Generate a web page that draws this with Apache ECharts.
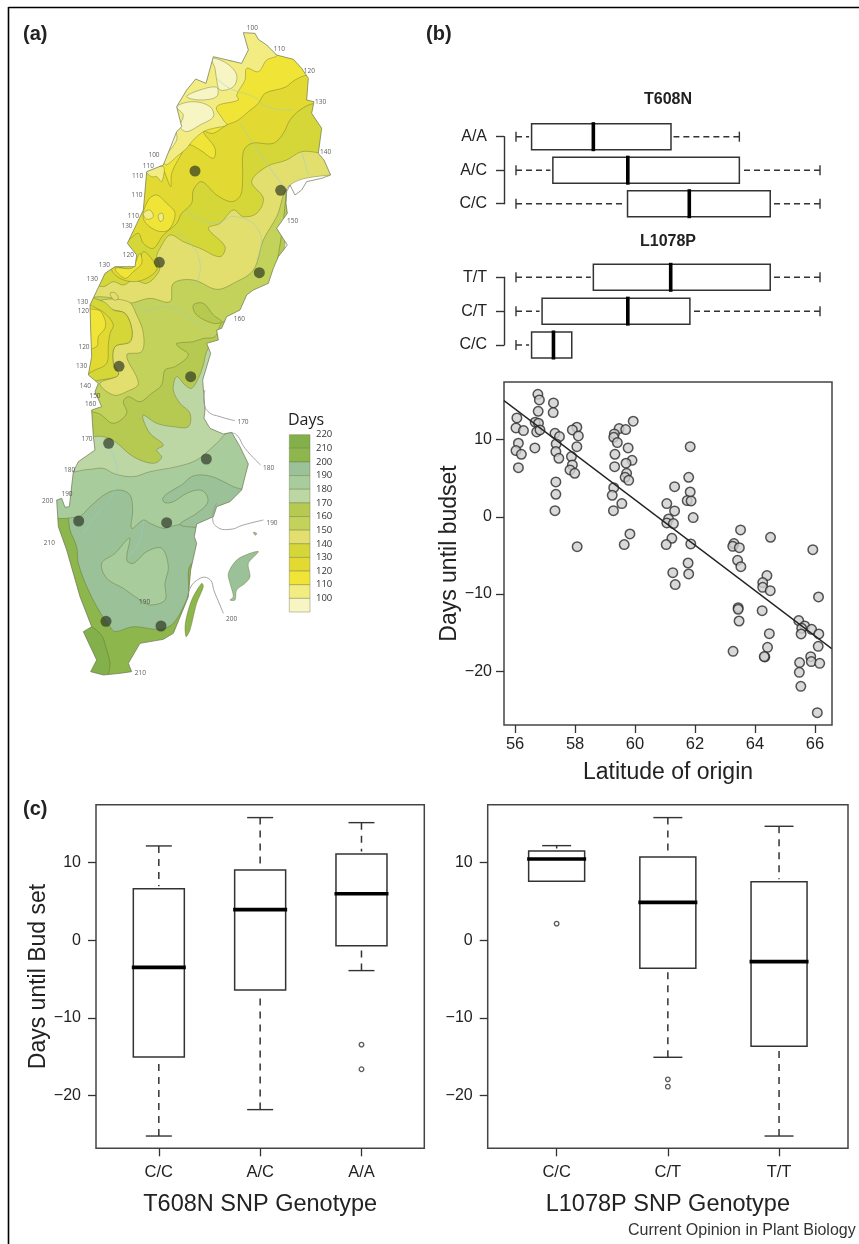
<!DOCTYPE html>
<html><head><meta charset="utf-8">
<style>html,body{margin:0;padding:0;background:#fff}#c{width:859px;height:1244px}</style>
<script src="https://cdn.jsdelivr.net/npm/echarts@6/dist/echarts.min.js"></script>
</head><body><div id="c"></div>
<script>
// ---------- panel (b) scatter: [latitude, days until budset]
const budsetPoints = [
[56.76,15.87],[56.81,15.14],[57.28,14.75],[56.77,13.67],[57.27,13.5],[56.06,12.81],[56.03,11.51],[56.28,11.17],[56.67,12.25],[56.78,12.12],[56.72,11.0],[56.83,11.25],[57.33,10.82],[57.48,10.39],[57.37,9.44],[56.11,9.53],[56.03,8.58],[56.21,8.1],[56.11,6.37],[56.66,8.92],[57.36,8.45],[57.46,7.58],[58.06,11.6],[57.91,11.25],[58.11,10.48],[58.06,9.09],[57.88,7.8],[57.91,6.72],[57.83,6.07],[57.99,5.64],[57.36,4.52],[57.36,2.92],[57.33,0.8],[58.07,-3.86],
[59.94,12.38],[59.47,11.43],[59.69,11.3],[59.31,10.74],[59.29,10.3],[59.41,9.61],[59.77,8.92],[59.33,8.1],[59.9,7.32],[59.7,6.94],[59.32,6.5],[59.72,5.64],[59.67,5.12],[59.79,4.73],[59.29,3.78],[59.24,2.79],[59.56,1.71],[59.28,0.8],[59.83,-2.22],[59.64,-3.6],
[61.32,3.91],[61.06,1.71],[61.32,0.76],[61.12,-0.28],[61.06,-0.79],[61.28,-0.88],[61.23,-2.78],[61.04,-3.6],[61.26,-7.23],[61.34,-8.78],
[61.84,9.09],[61.79,5.12],[61.84,3.22],[61.74,2.1],[61.87,2.06],[61.94,-0.1],[61.86,-3.51],[61.77,-5.98],[61.79,-7.4],
[63.52,-1.7],[64.52,-2.65],[65.93,-4.25],[63.3,-3.47],[63.26,-3.82],[63.48,-3.99],[63.42,-5.63],[63.53,-6.45],[64.4,-7.61],[64.26,-8.52],[64.26,-9.13],[64.51,-9.56],[66.12,-10.38],[63.44,-11.76],[63.44,-11.97],[64.24,-12.15],[63.47,-13.49],[65.46,-13.44],[65.66,-14.13],[65.89,-14.57],[66.13,-15.17],[65.56,-14.44],[65.54,-15.17],[64.48,-15.13],[66.11,-16.77],[64.42,-16.9],[63.27,-17.42],[64.33,-18.15],[64.31,-18.1],[65.86,-18.11],[65.88,-18.75],[66.16,-18.97],[65.49,-18.88],[65.48,-20.14],[65.53,-21.95],[66.08,-25.36]
];
const fitLine = [[55.63,15.05],[66.56,-17.07]];
const latitudeTicks = [56,58,60,62,64,66];
const dayTicks = [-20,-10,0,10];

// ---------- panel (b) horizontal boxplots: [low, q1, median, q3, high]
const t608nGenotypes = ['A/A','A/C','C/C'];
const t608nLatBoxes = [[56.03,56.55,58.61,61.2,63.48],[56.03,57.26,59.76,63.48,66.17],[56.03,59.75,61.81,64.51,66.17]];
const l1078pGenotypes = ['T/T','C/T','C/C'];
const l1078pLatBoxes = [[56.03,58.61,61.19,64.51,66.17],[56.03,56.9,59.76,61.83,66.17],[56.03,56.55,57.28,57.89,57.89]];

// ---------- panel (c) vertical boxplots: [low, q1, median, q3, high]
const t608nCats = ['C/C','A/C','A/A'];
const t608nDayBoxes = [[-25.2,-15.02,-3.48,6.65,12.15],[-21.8,-6.39,3.95,9.06,15.8],[-3.9,-0.69,6.0,11.1,15.15]];
const t608nOutliers = [[3,-13.43],[3,-16.6]];
const l1078pCats = ['C/C','C/T','T/T'];
const l1078pDayBoxes = [[7.6,7.6,10.47,11.5,12.19],[-15.06,-3.6,4.89,10.73,15.8],[-25.2,-13.65,-2.75,7.55,14.68]];
const l1078pOutliers = [[1,2.15],[2,-17.9],[2,-18.84]];

// ---------- panel (a) legend
const legendBounds = [[210,220],[200,210],[190,200],[180,190],[170,180],[160,170],[150,160],[140,150],[130,140],[120,130],[110,120],[100,110],[90,100]];
const legendColors = ['#83b04b','#8db64c','#9bc198','#a9cc9d','#bcd7a4','#b6ca52','#c3d25a','#e3df6f','#d5d739','#e2da33','#f0e437','#f2ec83','#f7f5c3'];
const C = {d220:'#83b04b',d210:'#8db64c',d200:'#9bc198',d190:'#a9cc9d',d180:'#bcd7a4',d170:'#b6ca52',d160:'#c3d25a',d150:'#e3df6f',d140:'#d5d739',d130:'#e2da33',d120:'#f0e437',d110:'#f2ec83',d100:'#f7f5c3'};

// ---------- panel (a) map, in map units
const mapOutline = [[730,98],[765,100],[775,118],[800,135],[830,165],[880,178],[905,205],[925,235],[920,300],[942,305],[935,340],[965,385],[955,460],[972,480],[992,525],[965,535],[920,545],[905,570],[885,585],[870,555],[860,575],[858,610],[862,640],[830,685],[862,735],[835,770],[820,805],[805,850],[760,870],[740,885],[720,930],[680,950],[665,985],[650,990],[655,1020],[620,1030],[632,1060],[608,1140],[615,1230],[612,1255],[630,1285],[670,1302],[695,1297],[720,1340],[745,1392],[735,1430],[725,1470],[690,1505],[650,1520],[640,1550],[590,1572],[583,1610],[590,1630],[572,1710],[565,1790],[555,1815],[520,1900],[490,1918],[420,1930],[385,1990],[395,2015],[360,2020],[310,2025],[272,2015],[290,1980],[250,1895],[275,1880],[240,1790],[200,1650],[175,1580],[170,1500],[185,1495],[195,1522],[208,1520],[220,1415],[235,1385],[285,1350],[280,1310],[275,1230],[305,1220],[285,1175],[295,1150],[265,1125],[275,1070],[272,990],[270,915],[315,820],[345,800],[405,800],[410,765],[382,730],[430,630],[440,515],[490,495],[530,395],[545,380],[530,320],[560,270],[587,237],[618,250],[640,170],[725,190],[745,150]];
const mapZones = [
 [C.d210,[[100,1300],[800,1300],[800,2080],[100,2080]]],
 [C.d220,[[240,1870],[300,1900],[320,1950],[330,2000],[310,2040],[250,2040]]],
 [C.d200,[[205,1400],[195,1500],[205,1550],[210,1590],[230,1640],[235,1690],[265,1770],[305,1845],[330,1880],[345,1895],[400,1880],[480,1888],[520,1870],[555,1810],[565,1780],[575,1690],[700,1650],[800,1400],[800,1300],[205,1300]]],
 [C.d190,[[150,1540],[235,1550],[270,1520],[320,1480],[360,1470],[390,1485],[398,1530],[395,1585],[430,1560],[450,1570],[490,1585],[510,1580],[560,1570],[600,1570],[640,1550],[680,1520],[760,1480],[800,1300],[150,1300]]],
 [C.d190,[[305,1690],[345,1660],[380,1620],[390,1615],[380,1680],[400,1690],[440,1655],[485,1645],[505,1700],[495,1750],[495,1800],[450,1815],[420,1800],[370,1765],[320,1735]]],
 [C.d200,[[488,1495],[510,1475],[545,1455],[575,1430],[610,1425],[650,1435],[700,1460],[760,1485],[720,1580],[560,1580],[540,1572],[590,1540],[622,1510],[620,1485],[600,1470],[560,1480],[520,1505],[495,1508]]],
 [C.d180,[[150,1410],[270,1408],[310,1405],[345,1422],[400,1430],[450,1415],[530,1400],[590,1380],[650,1330],[685,1298],[800,1290],[800,1000],[150,1000]]],
 [C.d170,[[250,1300],[310,1310],[345,1325],[400,1370],[460,1390],[485,1372],[470,1350],[490,1335],[450,1300],[430,1260],[430,1245],[470,1270],[520,1280],[565,1280],[570,1240],[540,1210],[520,1170],[530,1130],[555,1155],[575,1165],[595,1135],[610,1095],[620,1055],[640,1030],[800,1030],[800,400],[150,400]]],
 [C.d160,[[150,1200],[295,1240],[340,1270],[380,1240],[370,1205],[385,1190],[420,1205],[455,1180],[485,1155],[495,1110],[525,1100],[565,1065],[535,1040],[530,1030],[580,1025],[610,1015],[645,1010],[670,965],[800,950],[800,300],[150,300]]],
 [C.d170,[[580,915],[610,910],[640,945],[665,965],[640,970],[590,945]]],
 [C.d150,[[1100,525],[990,525],[870,555],[830,650],[790,720],[760,810],[700,850],[650,868],[580,840],[520,850],[510,905],[450,895],[385,910],[340,895],[300,890],[200,890],[200,300],[1100,300]]],
 [C.d150,[[385,905],[410,945],[430,1000],[425,1055],[380,1065],[415,1150],[380,1175],[340,1185],[300,1150],[355,1125],[340,1090],[345,1040],[390,1025],[395,985],[375,940],[340,930],[310,920],[305,900]]],
 [C.d140,[[230,890],[310,905],[340,930],[375,940],[395,985],[390,1025],[345,1040],[340,1090],[355,1125],[300,1140],[265,1140],[230,1000]]],
 [C.d130,[[230,905],[290,925],[320,945],[340,975],[330,1000],[325,1035],[320,1090],[285,1110],[230,1130]]],
 [C.d120,[[230,940],[295,930],[315,960],[315,985],[295,1010],[290,1040],[230,1050]]],
 [C.d140,[[1100,458],[960,458],[905,455],[860,480],[800,500],[755,545],[790,595],[770,640],[730,650],[700,630],[660,670],[625,685],[675,740],[660,770],[600,745],[550,725],[510,705],[480,745],[470,770],[480,800],[470,825],[440,850],[400,840],[370,855],[340,845],[310,860],[270,850],[200,850],[200,50],[1100,50]]],
 [C.d150,[[330,880],[345,878],[355,895],[342,900]]],
 [C.d130,[[1100,310],[945,310],[900,330],[870,360],[850,400],[820,430],[755,430],[730,455],[728,530],[722,585],[695,605],[650,585],[605,545],[580,570],[575,610],[545,640],[530,670],[490,705],[460,745],[430,730],[415,700],[380,720],[300,700],[300,100],[1100,100]]],
 [C.d130,[[335,810],[360,835],[400,845],[440,835],[470,810],[465,790],[430,755],[415,800],[390,810],[350,800]]],
 [C.d120,[[345,805],[375,835],[400,815],[425,790],[420,760],[405,790],[395,805]]],
 [C.d120,[[1100,225],[925,225],[885,240],[855,262],[795,280],[775,310],[745,335],[712,362],[680,375],[640,400],[610,395],[645,445],[640,475],[600,450],[565,435],[540,470],[515,520],[512,560],[490,510],[470,490],[420,480],[420,100],[1100,100]]],
 [C.d120,[[445,600],[470,585],[500,610],[525,640],[505,690],[465,690],[430,655]]],
 [C.d110,[[700,60],[830,165],[800,180],[775,215],[740,205],[735,240],[710,285],[715,300],[650,320],[670,360],[680,375],[640,385],[610,395],[575,425],[560,445],[530,470],[500,495],[490,490],[430,510],[450,490],[500,400],[540,290],[600,200],[640,160],[700,180]]],
 [C.d110,[[440,515],[490,500],[485,545],[470,530],[455,530]]],
 [C.d110,[[430,640],[450,630],[460,650],[440,658]]],
 [C.d110,[[475,645],[487,640],[490,658],[480,664]]],
 [C.d100,[[635,175],[680,190],[710,225],[700,260],[660,270],[650,240],[645,205]]],
 [C.d100,[[530,320],[580,305],[630,320],[640,350],[600,375],[560,395],[540,380],[550,345]]],
 [C.d100,[[560,290],[600,270],[650,262],[650,290],[600,300]]],
 [C.d100,[[495,465],[530,420],[525,395],[500,440]]]
];
const mapIslands = [
 [C.d210,[[605,1750],[610,1760],[590,1810],[570,1890],[558,1910],[556,1870],[575,1800]]],
 [C.d200,[[690,1800],[700,1790],[690,1750],[685,1720],[710,1680],[750,1660],[775,1655],[745,1690],[750,1730],[735,1750],[710,1770],[705,1800]]],
 [C.d200,[[760,1597],[770,1600],[766,1606]]]
];
const mapRivers = [
 [[650,235],[690,265],[760,290],[800,320],[880,330]],
 [[720,370],[760,430],[800,490],[850,560]],
 [[905,455],[915,490],[925,525]],
 [[555,630],[640,670],[710,650],[780,700],[770,780]],
 [[530,700],[570,730],[600,790],[590,850]],
 [[400,910],[440,930],[500,920],[580,960],[640,1010]],
 [[320,1330],[350,1400],[340,1480],[300,1530],[250,1600]],
 [[430,1560],[420,1620],[385,1670]]
];
const mapLeaders = [
 [[615,1170],[612,1205],[625,1235],[660,1250],[705,1262]],
 [[690,1298],[710,1305],[735,1345],[782,1395]],
 [[650,1510],[638,1550],[650,1580],[690,1588],[730,1575],[790,1560]],
 [[565,1780],[585,1745],[625,1735],[645,1780],[670,1840]]
];
const siteDots = [[585,513],[842,571],[478,787],[778,818],[357,1099],[572,1130],[326,1330],[619,1377],[236,1563],[500,1568],[318,1864],[483,1878]];
const contourLabels = [[757,85,'100'],[838,146,'110'],[928,212,'120'],[962,306,'130'],[977,456,'140'],[462,465,'100'],[445,499,'110'],[413,528,'110'],[411,584,'110'],[400,647,'110'],[381,677,'130'],[878,663,'150'],[385,765,'120'],[313,795,'130'],[277,837,'130'],[248,907,'130'],[250,932,'120'],[718,958,'160'],[252,1042,'120'],[245,1097,'130'],[256,1159,'140'],[285,1187,'150'],[272,1213,'160'],[729,1265,'170'],[261,1316,'170'],[806,1403,'180'],[209,1410,'180'],[201,1483,'190'],[143,1502,'200'],[816,1570,'190'],[148,1629,'210'],[434,1805,'190'],[695,1857,'200'],[421,2020,'210']];
const maskCorners = [[-600,-600],[1275,-600],[1275,2250],[-600,2250],[-600,-600]];

// ---------- rendering helpers
const SANS = '"Liberation Sans", Arial, sans-serif';
const INK = '#333';
function boxItem(vertical, api, row, halfBox, halfCap, b) {
  const xy = v => vertical ? api.coord([row, v]) : api.coord([v, row]);
  const kids = [];
  const dash = vertical ? [7,6] : [6,4];
  const line = (p, q, w, d) => ({type:'line', shape:{x1:p[0],y1:p[1],x2:q[0],y2:q[1]}, style:{stroke:INK, lineWidth:w, lineDash:d||null}});
  const gap = 2.5;
  const shift = (p, d) => vertical ? [p[0], p[1] + d] : [p[0] + d, p[1]];
  const capEnd = (v, s) => { const p = xy(v); return vertical ? [p[0] + s*halfCap, p[1]] : [p[0], p[1] + s*halfCap]; };
  if (b[0] < b[1]) kids.push(line(xy(b[0]), shift(xy(b[1]), vertical ? gap : -gap), 1.5, dash));
  if (b[4] > b[3]) kids.push(line(xy(b[4]), shift(xy(b[3]), vertical ? -gap : gap), 1.5, dash));
  kids.push(line(capEnd(b[0],-1), capEnd(b[0],1), 1.4));
  if (b[4] > b[3]) kids.push(line(capEnd(b[4],-1), capEnd(b[4],1), 1.4));
  const lo = xy(b[1]), hi = xy(b[3]);
  const a0 = vertical ? [lo[0]-halfBox, hi[1]] : [lo[0], lo[1]-halfBox];
  const a1 = vertical ? [lo[0]+halfBox, lo[1]] : [hi[0], lo[1]+halfBox];
  kids.push({type:'rect', shape:{x:a0[0],y:a0[1],width:a1[0]-a0[0],height:a1[1]-a0[1]}, style:{fill:'#fff',stroke:INK,lineWidth:1.5}});
  const m = xy(b[2]);
  const over = 1.5;
  kids.push(vertical
    ? {type:'line',shape:{x1:m[0]-halfBox-over,y1:m[1],x2:m[0]+halfBox+over,y2:m[1]},style:{stroke:'#000',lineWidth:3.6}}
    : {type:'line',shape:{x1:m[0],y1:m[1]-halfBox-over,x2:m[0],y2:m[1]+halfBox+over},style:{stroke:'#000',lineWidth:3.6}});
  return {type:'group', children:kids};
}
const hBoxSeries = (gi, rows) => ({type:'custom', xAxisIndex:gi, yAxisIndex:gi, z:3,
  data: rows.map(r => r.slice()),
  encode:{x:[0,1,2,3,4]},
  renderItem:(p,api)=>boxItem(false,api,p.dataIndex,13,5,rows[p.dataIndex])});
const vBoxSeries = (gi, rows, halfBox, halfCap) => ({type:'custom', xAxisIndex:gi, yAxisIndex:gi, z:3,
  data: rows.map(r => r.slice()),
  encode:{y:[0,1,2,3,4]},
  renderItem:(p,api)=>boxItem(true,api,p.dataIndex+1,halfBox,halfCap,rows[p.dataIndex])});
const hidden = {show:false};
const noLine = {show:false,onZero:false};
const catLeft = (gi, names) => ({type:'category', gridIndex:gi, data:names, inverse:true, boundaryGap:false, position:'left',
  axisLine:{show:true,onZero:false,lineStyle:{color:INK,width:1.4}}, axisTick:{show:true,alignWithLabel:true,length:8,lineStyle:{color:INK,width:1.4}},
  axisLabel:{fontFamily:SANS,fontSize:16,color:'#222',margin:17}});
const latHidden = gi => ({type:'value', gridIndex:gi, min:55.63, max:66.57, show:false});
const minus = v => String(v).replace('-','\u2212');
const dayAxis = (gi, min, name, margin, gap) => ({type:'value', gridIndex:gi, min:min, max:17.46, scale:true, splitLine:hidden,
  axisLine:noLine, axisTick:{show:true,length:8,lineStyle:{color:INK,width:1.3},customValues:dayTicks},
  axisLabel:{fontFamily:SANS,fontSize:16,color:'#222',margin:margin,formatter:minus,customValues:dayTicks},
  name:name, nameLocation:'middle', nameRotate:90, nameGap:gap, nameTextStyle:{fontFamily:SANS,fontSize:23,color:'#222'}});
const genoAxis = (gi, names, title) => ({type:'value', gridIndex:gi, min:0.38, max:3.62, splitLine:hidden, axisLine:noLine,
  axisTick:{show:true,length:8,lineStyle:{color:INK,width:1.3},customValues:[1,2,3]},
  axisLabel:{fontFamily:SANS,fontSize:16.5,color:'#222',margin:16,customValues:[1,2,3],formatter:v=>names[v-1]},
  name:title, nameLocation:'middle', nameGap:44, nameTextStyle:{fontFamily:SANS,fontSize:23.5,color:'#222'}});
const frame = {show:true, borderColor:'#444', borderWidth:1.5, backgroundColor:'transparent'};
const outlierSeries = (gi, pts) => ({type:'scatter', xAxisIndex:gi, yAxisIndex:gi, data:pts, symbol:'circle', symbolSize:4.6, z:4,
  itemStyle:{color:'#fff',borderColor:INK,borderWidth:1.3}});
const zonePolygon = (zones, z, smooth) => ({type:'custom', xAxisIndex:0, yAxisIndex:0, z:z, silent:true,
  data: zones.map((_,i)=>[i]),
  renderItem:(p,api)=>{
    const zone = zones[p.dataIndex];
    return {type:'polygon', shape:{points:zone[1].map(q=>api.coord(q)), smooth:smooth},
      style:{fill:zone[0], stroke:'rgba(90,100,40,0.55)', lineWidth:0.7}};
  }});
const curves = (lines, color, w, z) => ({type:'custom', xAxisIndex:0, yAxisIndex:0, z:z, silent:true,
  data: lines.map((_,i)=>[i]),
  renderItem:(p,api)=>({type:'polyline', shape:{points:lines[p.dataIndex].map(q=>api.coord(q)), smooth:0.5},
    style:{fill:null, stroke:color, lineWidth:w}})});

const chart = echarts.init(document.getElementById('c'), null, {renderer:'canvas', width:859, height:1244});
chart.setOption({
  animation:false, backgroundColor:'#fff',
  grid:[
    {left:0, top:0, width:430, height:700},
    {left:504, top:136.7, width:328, height:67},
    {left:504, top:277.3, width:328, height:67.7},
    Object.assign({left:504, top:382, width:328, height:343}, frame),
    Object.assign({left:96, top:804.7, width:328.3, height:343.6}, frame),
    Object.assign({left:487.7, top:804.7, width:360.3, height:343.6}, frame),
    {left:289.3, top:434.7, width:20.7, height:177.3}
  ],
  xAxis:[
    {type:'value', gridIndex:0, min:0, max:1290, show:false},
    latHidden(1), latHidden(2),
    {type:'value', gridIndex:3, min:55.63, max:66.57, splitLine:hidden, axisLine:noLine,
     axisTick:{show:true,length:8,lineStyle:{color:INK,width:1.3},customValues:latitudeTicks},
     axisLabel:{fontFamily:SANS,fontSize:16.5,color:'#222',margin:11,customValues:latitudeTicks},
     name:'Latitude of origin', nameLocation:'middle', nameGap:36, nameTextStyle:{fontFamily:SANS,fontSize:23,color:'#222'}},
    genoAxis(4,t608nCats,'T608N SNP Genotype'),
    genoAxis(5,l1078pCats,'L1078P SNP Genotype'),
    {type:'value', gridIndex:6, min:0, max:1, show:false}
  ],
  yAxis:[
    {type:'value', gridIndex:0, min:0, max:2100, inverse:true, show:false},
    catLeft(1,t608nGenotypes), catLeft(2,l1078pGenotypes),
    dayAxis(3,-26.96,'Days until budset',12,35.5),
    dayAxis(4,-26.78,'Days until Bud set',15,46),
    dayAxis(5,-26.78,'',15,46),
    {type:'value', gridIndex:6, z:20, min:90, max:220, interval:10, position:'right', splitLine:hidden, axisLine:noLine, axisTick:hidden,
     axisLabel:{fontFamily:'"Open Sans", sans-serif',fontSize:9.5,color:'#333',margin:6,showMinLabel:false,formatter:v=>v===90?'':String(v)}}
  ],
  graphic:[
    {type:'line',z:100,shape:{x1:8.5,y1:7.5,x2:859,y2:7.5},style:{stroke:'#000',lineWidth:1.6}},
    {type:'line',z:100,shape:{x1:8.5,y1:7,x2:8.5,y2:1244},style:{stroke:'#000',lineWidth:1.6}},
    {type:'text',z:100,x:23,y:24,style:{text:'(a)',font:'bold 20px '+SANS,fill:'#222'}},
    {type:'text',z:100,x:426,y:24,style:{text:'(b)',font:'bold 20px '+SANS,fill:'#222'}},
    {type:'text',z:100,x:23,y:799,style:{text:'(c)',font:'bold 20px '+SANS,fill:'#222'}},
    {type:'text',z:100,x:668,y:92,style:{text:'T608N',font:'bold 16px '+SANS,fill:'#222',textAlign:'center'}},
    {type:'text',z:100,x:668,y:234,style:{text:'L1078P',font:'bold 16px '+SANS,fill:'#222',textAlign:'center'}},
    {type:'text',z:100,x:288,y:412,style:{text:'Days',font:'16px "Open Sans", sans-serif',fill:'#222'}},
    {type:'text',z:100,x:628,y:1223,style:{text:'Current Opinion in Plant Biology',font:'16px '+SANS,fill:'#333'}}
  ],
  series:[
    zonePolygon(mapZones,2,0.35),
    curves(mapRivers,'rgba(150,205,205,0.55)',0.9,3),
    {type:'custom',xAxisIndex:0,yAxisIndex:0,z:4,silent:true,data:[[0]],
     renderItem:(p,api)=>({type:'polygon',
       shape:{points:maskCorners.concat(mapOutline.slice().reverse(),[mapOutline[mapOutline.length-1]],[maskCorners[0]]).map(q=>api.coord(q))},
       style:{fill:'#fff',stroke:null}})},
    {type:'custom',xAxisIndex:0,yAxisIndex:0,z:5,silent:true,data:[[0]],
     renderItem:(p,api)=>({type:'polygon',shape:{points:mapOutline.map(q=>api.coord(q))},style:{fill:null,stroke:'#6a7450',lineWidth:0.7}})},
    zonePolygon(mapIslands,5,0.3),
    curves(mapLeaders,'#9a9a9a',0.9,6),
    {type:'scatter',xAxisIndex:0,yAxisIndex:0,z:7,silent:true,data:siteDots,symbol:'circle',symbolSize:11,itemStyle:{color:'rgba(38,48,32,0.82)'}},
    {type:'scatter',xAxisIndex:0,yAxisIndex:0,z:8,silent:true,data:contourLabels,symbolSize:1,itemStyle:{color:'transparent'},
     label:{show:true,position:'inside',fontFamily:'"Open Sans", sans-serif',fontSize:6.5,color:'#333',formatter:p=>p.data[2]}},
    {type:'custom',xAxisIndex:6,yAxisIndex:6,z:6,silent:true,data:legendBounds.map(b=>[0,b[0],b[1]]),
     encode:{y:[1,2]},
     renderItem:(p,api)=>{
       const a=api.coord([0,api.value(2)]), b=api.coord([1,api.value(1)]);
       return {type:'rect',shape:{x:a[0],y:a[1],width:b[0]-a[0],height:b[1]-a[1]},style:{fill:legendColors[p.dataIndex],stroke:'rgba(110,120,70,0.6)',lineWidth:0.7}};
     }},
    hBoxSeries(1,t608nLatBoxes),
    hBoxSeries(2,l1078pLatBoxes),
    {type:'scatter',xAxisIndex:3,yAxisIndex:3,z:3,data:budsetPoints,symbol:'circle',symbolSize:9.5,itemStyle:{color:'#cfcfcf',borderColor:'#2b2b2b',borderWidth:1.5}},
    {type:'line',xAxisIndex:3,yAxisIndex:3,z:4,data:fitLine,showSymbol:false,lineStyle:{color:'#222',width:1.3}},
    vBoxSeries(4,t608nDayBoxes,25.5,13),
    outlierSeries(4,t608nOutliers),
    vBoxSeries(5,l1078pDayBoxes,28,14.5),
    outlierSeries(5,l1078pOutliers)
  ]
});
</script></body></html>
